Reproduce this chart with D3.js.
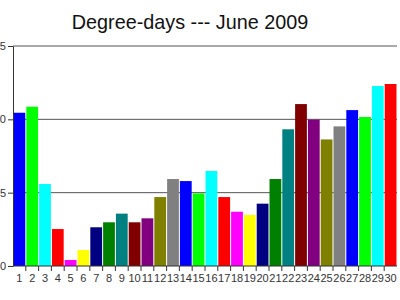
<!DOCTYPE html>
<html>
<head>
<meta charset="utf-8">
<script src="https://cdn.jsdelivr.net/npm/d3@7"></script>
<style>
body { margin: 0; background: #fff; }
svg { display: block; font-family: "Liberation Sans", Arial, sans-serif; }
</style>
</head>
<body>
<svg width="400" height="300"></svg>
<script>
// June 2009 degree-days, one value per day
var days = d3.range(1, 31);
var degreeDays = [10.45, 10.86, 5.59, 2.52, 0.41, 1.09, 2.64, 2.98, 3.57, 2.98,
                  3.25, 4.70, 5.93, 5.79, 4.95, 6.48, 4.70, 3.70, 3.48, 4.25,
                  5.93, 9.32, 11.04, 9.98, 8.63, 9.52, 10.63, 10.16, 12.27, 12.41];
var yTicks = [0, 5, 10, 15];
var palette = ["#0000ff", "#00ff00", "#00ffff", "#ff0000", "#ff00ff", "#ffff00", "#000080",
               "#008000", "#008080", "#800000", "#800080", "#808000", "#808080"];

var svg = d3.select("svg"),
    plotLeft = 13, plotRight = 397, plotTop = 46, plotBottom = 266;

var x = d3.scaleBand().domain(days).range([plotLeft, plotRight]).paddingInner(0.08).paddingOuter(0.04);
var y = d3.scaleLinear().domain([0, 15]).range([plotBottom, plotTop]);

svg.append("text")
    .attr("x", 190).attr("y", 29)
    .attr("text-anchor", "middle")
    .attr("font-size", 19.8)
    .attr("fill", "#111")
    .text("Degree-days --- June 2009");

// grid lines
svg.append("g").selectAll("line")
    .data(yTicks.slice(1))
    .enter().append("line")
    .attr("x1", plotLeft).attr("x2", plotRight)
    .attr("y1", function (d) {return y(d);})
    .attr("y2", function (d) {return y(d);})
    .attr("stroke", "#555").attr("stroke-width", 1);

svg.append("g").selectAll("rect")
    .data(degreeDays)
    .enter().append("rect")
    .attr("x", function (d, i) {return x(days[i]);})
    .attr("y", function (d) {return y(d);})
    .attr("width", x.bandwidth())
    .attr("height", function (d) {return y(0) - y(d);})
    .attr("fill", function (d, i) {return palette[i % palette.length];});

// y axis
var yAxis = svg.append("g")
    .attr("transform", "translate(" + plotLeft + ",0)")
    .call(d3.axisLeft(y).tickValues(yTicks).tickSize(5).tickPadding(2).tickSizeOuter(0));
yAxis.select(".domain").attr("stroke", "#333");
yAxis.selectAll(".tick line").attr("stroke", "#333");
yAxis.selectAll("text").attr("font-size", 11).attr("fill", "#333").attr("font-family", null);

// x axis, ticks sit between the bars
var step = x.step();
var xAxis = svg.append("g")
    .attr("transform", "translate(0," + plotBottom + ")");
xAxis.append("line")
    .attr("x1", plotLeft).attr("x2", plotRight)
    .attr("stroke", "#333");
xAxis.selectAll(".sep")
    .data(days.slice(0, -1))
    .enter().append("line")
    .attr("class", "sep")
    .attr("x1", function (d) {return x(d) + x.bandwidth() + step * x.paddingInner() / 2;})
    .attr("x2", function (d) {return x(d) + x.bandwidth() + step * x.paddingInner() / 2;})
    .attr("y1", 0).attr("y2", 5)
    .attr("stroke", "#333");
xAxis.selectAll("text")
    .data(days)
    .enter().append("text")
    .attr("x", function (d) {return x(d) + x.bandwidth() / 2;})
    .attr("y", 16)
    .attr("text-anchor", "middle")
    .attr("font-size", 11)
    .attr("fill", "#333")
    .text(function (d) {return d;});
</script>
</body>
</html>
